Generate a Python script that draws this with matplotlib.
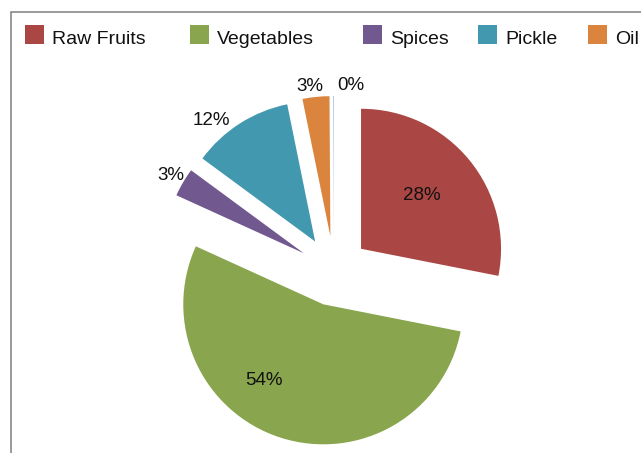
import matplotlib
matplotlib.use("Agg")
import matplotlib.pyplot as plt
import numpy as np
from matplotlib.patches import Rectangle

categories = ["Raw Fruits", "Vegetables", "Spices", "Pickle", "Oil", ""]
values = [28.1, 53.7, 3.3, 11.7, 3.1, 0.1]
colors = ["#AA4643", "#89A54E", "#71588F", "#4198AF", "#DB843D", "#A9C4E8"]

plt.rcParams['font.family'] = ['Liberation Sans', 'DejaVu Sans']

W, H = 641, 453
fig = plt.figure(figsize=(W / 100, H / 100), dpi=100)
ax = fig.add_axes([0, 0, 1, 1])

wedges, _ = ax.pie(values, colors=colors, startangle=90, counterclock=False,
                   explode=[0.25] * len(values), radius=1, center=(0, 0),
                   wedgeprops=dict(linewidth=0))

# pie geometry in pixels
cx, cy, R = 334, 271, 140
ax.set_aspect('auto')
ax.set_xlim((0 - cx) / R, (W - cx) / R)
ax.set_ylim((cy - H) / R, cy / R)
ax.axis('off')

# label layout: distance from wedge center and angular tweak (degrees)
lab_r = [0.58, 0.69, 1.10, 1.14, 1.08, 1.08]
lab_dt = [2, -20, 0, 8, 2, -6.5]
total = sum(values)
for w, v, r, dt in zip(wedges, values, lab_r, lab_dt):
    mid = np.deg2rad((w.theta1 + w.theta2) / 2 + dt)
    x0, y0 = w.center
    ax.text(x0 + r * np.cos(mid), y0 + r * np.sin(mid),
            f"{v / total * 100:.0f}%", ha='center', va='center',
            fontsize=13.5, color='#111111')

# frame (cut off at right and bottom)
fig.add_artist(Rectangle((11 / W, -0.1), 1.2, 1 - 12 / H + 0.1,
                         transform=fig.transFigure, fill=False,
                         edgecolor='#7f7f7f', linewidth=1.1))

# legend
leg_x = [25, 190, 363, 478, 588]
for name, col, lx in zip(categories[:5], colors[:5], leg_x):
    fig.add_artist(Rectangle((lx / W, 1 - 44 / H), 19 / W, 19 / H,
                             transform=fig.transFigure, facecolor=col,
                             edgecolor='none'))
    fig.text((lx + 27) / W, 1 - 44 / H, name, ha='left', va='baseline',
             fontsize=14, color='#111111')

fig.savefig("out.png", dpi=100)
